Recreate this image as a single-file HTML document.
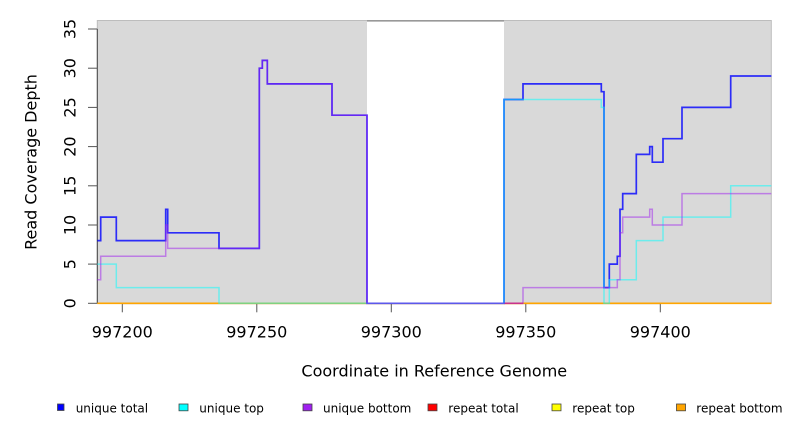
<!DOCTYPE html>
<html>
<head>
<meta charset="utf-8">
<style>
  html, body { margin: 0; padding: 0; background: #ffffff; }
  svg { display: block; }
  text { font-family: "DejaVu Sans", "Liberation Sans", sans-serif; fill: #000; }
</style>
</head>
<body>
<svg width="792" height="432" viewBox="0 0 792 432" xmlns="http://www.w3.org/2000/svg">
  <!-- plot background -->
  <rect x="97.3" y="20.5" width="674" height="282.8" fill="#d9d9d9" stroke="#bdbdbd" stroke-width="1"/>
  <!-- white gap region -->
  <rect x="367" y="21.2" width="137" height="282.1" fill="#ffffff"/>
  <line x1="367" y1="20.8" x2="504" y2="20.8" stroke="#999999" stroke-width="1.6"/>

  <!-- y axis -->
  <line x1="97.3" y1="29" x2="97.3" y2="303.3" stroke="#444" stroke-width="1"/>
  <g stroke="#555" stroke-width="1">
    <line x1="88" y1="303.3" x2="97.3" y2="303.3"/>
    <line x1="88" y1="264.1" x2="97.3" y2="264.1"/>
    <line x1="88" y1="225.0" x2="97.3" y2="225.0"/>
    <line x1="88" y1="185.8" x2="97.3" y2="185.8"/>
    <line x1="88" y1="146.6" x2="97.3" y2="146.6"/>
    <line x1="88" y1="107.4" x2="97.3" y2="107.4"/>
    <line x1="88" y1="68.2" x2="97.3" y2="68.2"/>
    <line x1="88" y1="29.0" x2="97.3" y2="29.0"/>
  </g>
  <g font-size="16" text-anchor="middle">
    <text transform="translate(75.5,303.3) rotate(-90)">0</text>
    <text transform="translate(75.5,264.1) rotate(-90)">5</text>
    <text transform="translate(75.5,225.0) rotate(-90)">10</text>
    <text transform="translate(75.5,185.8) rotate(-90)">15</text>
    <text transform="translate(75.5,146.6) rotate(-90)">20</text>
    <text transform="translate(75.5,107.4) rotate(-90)">25</text>
    <text transform="translate(75.5,68.2) rotate(-90)">30</text>
    <text transform="translate(75.5,29.0) rotate(-90)">35</text>
    <text transform="translate(36.5,162) rotate(-90)">Read Coverage Depth</text>
  </g>

  <!-- x axis -->
  <line x1="122.3" y1="303.6" x2="660.3" y2="303.6" stroke="#888" stroke-width="1"/>
  <g stroke="#555" stroke-width="1">
    <line x1="122.3" y1="303.3" x2="122.3" y2="312.3"/>
    <line x1="256.8" y1="303.3" x2="256.8" y2="312.3"/>
    <line x1="391.3" y1="303.3" x2="391.3" y2="312.3"/>
    <line x1="525.8" y1="303.3" x2="525.8" y2="312.3"/>
    <line x1="660.3" y1="303.3" x2="660.3" y2="312.3"/>
  </g>
  <g font-size="16" text-anchor="middle">
    <text x="122.3" y="337.7">997200</text>
    <text x="256.8" y="337.7">997250</text>
    <text x="391.3" y="337.7">997300</text>
    <text x="525.8" y="337.7">997350</text>
    <text x="660.3" y="337.7">997400</text>
    <text x="434.3" y="376.7">Coordinate in Reference Genome</text>
  </g>

  <!-- repeat lines at zero -->
  <line x1="97.3" y1="303.3" x2="771.3" y2="303.3" stroke="#ffa500" stroke-width="1.6"/>
  <line x1="504" y1="303.3" x2="523" y2="303.3" stroke="#f03030" stroke-width="1.6" stroke-opacity="0.8"/>

  <!-- unique total (blue) -->
  <path d="M97.3,240.6 H100.7 V217.1 H116.3 V240.6 H165.7 V209.3 H167.7 V232.8 H219 V248.4 H259.3 V68.2 H262.3 V60.4 H267.3 V83.9 H332 V115.2 H367 V303.3 H504 V99.5 H523 V83.9 H601.3 V91.7 H604 V287.6 H609.3 V264.1 H617.3 V256.3 H620 V209.3 H622.7 V193.6 H636.3 V154.4 H649.7 V146.6 H652.3 V162.2 H663 V138.7 H682 V107.4 H730.7 V76.0 H771.3"
        fill="none" stroke="#0000ff" stroke-opacity="0.8" stroke-width="1.7"/>
  <!-- unique top (cyan) -->
  <path d="M97.3,264.1 H116.3 V287.6 H219 V303.3 H504 V99.5 H601.3 V107.4 H604 V303.3 H609.3 V279.8 H636.3 V240.6 H663 V217.1 H730.7 V185.7 H771.3"
        fill="none" stroke="#00ffff" stroke-opacity="0.5" stroke-width="1.5"/>
  <!-- unique bottom (purple) -->
  <path d="M97.3,279.8 H100.7 V256.3 H165.7 V225.0 H167.7 V248.4 H259.3 V68.2 H262.3 V60.4 H267.3 V83.9 H332 V115.2 H367 V303.3 H523 V287.6 H617.3 V279.8 H620 V232.8 H622.7 V217.1 H649.7 V209.3 H652.3 V225.0 H682 V193.6 H771.3"
        fill="none" stroke="#a020f0" stroke-opacity="0.5" stroke-width="1.5"/>

  <!-- legend -->
  <g stroke="#444" stroke-width="0.8">
    <rect x="57.5" y="404" width="6.5" height="6.5" fill="#0000ff"/>
    <rect x="179" y="404" width="9" height="6.8" fill="#00ffff"/>
    <rect x="303" y="404" width="9" height="6.8" fill="#a020f0"/>
    <rect x="428" y="404" width="9" height="6.8" fill="#ff0000"/>
    <rect x="552" y="404" width="9" height="6.8" fill="#ffff00"/>
    <rect x="676.5" y="404" width="9" height="6.8" fill="#ffa500"/>
  </g>
  <g font-size="12">
    <text x="75.7" y="412.7">unique total</text>
    <text x="199.3" y="412.7">unique top</text>
    <text x="323" y="412.7">unique bottom</text>
    <text x="448.3" y="412.7">repeat total</text>
    <text x="572.3" y="412.7">repeat top</text>
    <text x="696.3" y="412.7">repeat bottom</text>
  </g>
</svg>
</body>
</html>
